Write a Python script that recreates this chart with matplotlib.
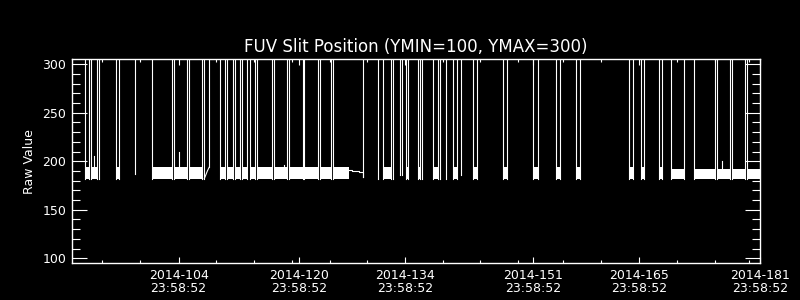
import matplotlib
matplotlib.use("Agg")
import matplotlib.pyplot as plt

# ---- data (day of year 2014, fractional) ----
block_start = [92.554, 93.427, 96.737, 101.504, 104.416, 106.402, 110.507, 111.394,
               112.493, 113.406, 114.439, 115.406, 117.656, 119.642, 121.628, 123.707,
               125.468, 132.088, 135.053, 136.721, 138.707, 141.316, 144.003, 147.975,
               151.947, 154.953, 157.693, 164.657, 166.206, 168.629, 170.218, 173.264,
               176.309, 178.255, 180.280]
block_end = [93.163, 94.142, 97.055, 104.072, 106.138, 108.124, 111.129, 112.148,
             113.115, 114.082, 115.101, 117.312, 119.338, 121.416, 123.402, 125.123,
             127.546, 133.067, 135.397, 137.013, 139.290, 141.806, 144.453, 148.425,
             152.530, 155.482, 158.130, 165.240, 166.696, 169.080, 171.940, 176.004,
             177.990, 179.976, 182.500]
block_low = [182.0] * 35
block_high = [194.0] * 30 + [192.0] * 5
block_end_edge = [True] * 16 + [False] + [True] * 18

# thin transitions (value dips down from above range)
spike_x = [94.487, 99.253, 131.426, 133.411, 134.30, 134.55, 137.251, 139.594,
           140.389, 142.375]
spike_bottom = [182.0, 186.6, 182.0, 182.0, 186.0, 186.0, 182.0, 182.0, 182.0, 186.0]

# short upward spikes inside the band
upspike_x = [93.825, 105.08, 118.98, 176.97]
upspike_top = [205.0, 209.5, 196.0, 200.0]

# ramp segment
ramp_x = [108.388, 108.60, 108.80, 109.050]
ramp_y = [182.0, 186.0, 190.0, 194.0]

# trailing slow drift after block ending at 127.546
trail_x = [127.546, 127.95, 127.95, 128.95, 128.95, 129.44, 129.44]
trail_y = [191.5, 191.5, 190.0, 190.0, 188.5, 188.5, 184.0]

HIGH = 400.0

major_days = [104.999, 120.999, 134.999, 151.999, 165.999, 181.999]
major_labels = ["2014-104\n23:58:52", "2014-120\n23:58:52", "2014-134\n23:58:52",
                "2014-151\n23:58:52", "2014-165\n23:58:52", "2014-181\n23:58:52"]
minor_days = [94.9, 99.9, 110.0, 115.0, 120.0, 125.0, 130.0, 140.0, 144.9, 150.0,
              155.9, 160.9, 171.0, 176.0, 180.6]
y_ticks = [100, 150, 200, 250, 300]

# ---- figure ----
fig = plt.figure(figsize=(8, 3), dpi=100, facecolor="black")
ax = fig.add_axes([0.09, 0.12333, 0.86, 0.679])
ax.set_facecolor("black")

lw = 0.8
for s, e, lo, hi, edge in zip(block_start, block_end, block_low, block_high, block_end_edge):
    ax.fill_between([s, e], [lo, lo], [hi, hi], color="white", lw=0, zorder=2)
    ax.plot([s, s], [lo, HIGH], color="white", lw=lw, zorder=3)
    if edge:
        ax.plot([e, e], [lo, HIGH], color="white", lw=lw, zorder=3)

for x, b in zip(spike_x, spike_bottom):
    ax.plot([x, x], [b, HIGH], color="white", lw=lw, zorder=3)

for x, t in zip(upspike_x, upspike_top):
    ax.plot([x, x], [190.0, t], color="white", lw=lw, zorder=3)

ax.plot(ramp_x, ramp_y, color="white", lw=lw, zorder=3)
ax.plot([ramp_x[0], ramp_x[0]], [ramp_y[0], HIGH], color="white", lw=lw, zorder=3)
ax.plot([ramp_x[-1], ramp_x[-1]], [ramp_y[-1], HIGH], color="white", lw=lw, zorder=3)

ax.plot(trail_x, trail_y, color="white", lw=lw, zorder=3)
ax.plot([trail_x[-1], trail_x[-1]], [trail_y[-1], HIGH], color="white", lw=lw, zorder=3)

ax.set_xlim(90.872, 182.0)
ax.set_ylim(95.15, 305.15)

for sp in ax.spines.values():
    sp.set_color("white")
    sp.set_linewidth(1.0)

ax.set_xticks(major_days)
ax.set_xticklabels(major_labels, fontsize=9, color="white", linespacing=1.0)
ax.set_xticks(minor_days, minor=True)
ax.set_yticks(y_ticks)
ax.set_yticklabels([str(v) for v in y_ticks], fontsize=9, color="white")
ax.set_yticks(list(range(100, 301, 10)), minor=True)

ax.tick_params(axis="x", which="major", direction="in", length=4.3, width=0.8,
               color="white", top=True, bottom=True, pad=4)
ax.tick_params(axis="x", which="minor", direction="in", length=2.2, width=0.8,
               color="white", top=True, bottom=True)
ax.tick_params(axis="y", which="major", direction="in", length=10.6, width=0.8,
               color="white", left=True, right=True, pad=4)
ax.tick_params(axis="y", which="minor", direction="in", length=5.8, width=0.8,
               color="white", left=True, right=True)

ax.set_ylabel("Raw Value", color="white", fontsize=9, labelpad=5)
ax.set_title("FUV Slit Position (YMIN=100, YMAX=300)", color="white", fontsize=12, pad=5)

fig.savefig("out.png", dpi=100, facecolor="black")
